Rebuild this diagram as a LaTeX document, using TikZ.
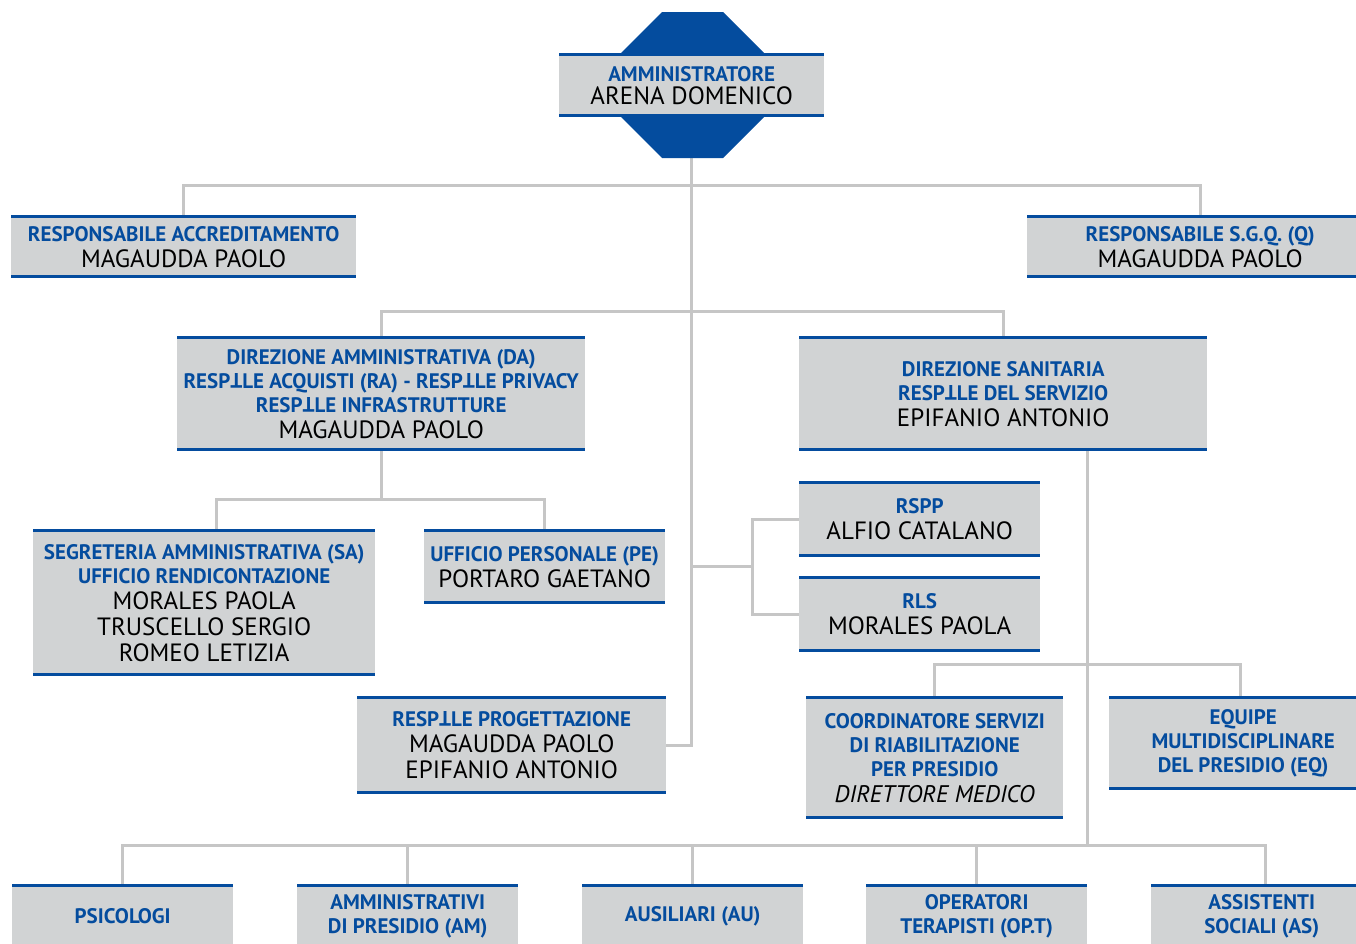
\documentclass[tikz,border=0pt]{standalone}
\usepackage{fontspec}
\setmainfont{PT Sans}
\usetikzlibrary{backgrounds}
\definecolor{orgblue}{RGB}{4,76,158}
\definecolor{boxgray}{RGB}{209,211,212}
\definecolor{linegray}{RGB}{198,198,198}
\newcommand{\bluetxt}[1]{{\color{orgblue}\bfseries\fontsize{21}{24}\selectfont #1}}
\newcommand{\blacktxt}[1]{{\fontsize{25}{24}\selectfont #1}}
\newcommand{\blackit}[1]{{\itshape\fontsize{24}{24}\selectfont #1}}
\newcommand{\tee}{\rotatebox[origin=c]{180}{T}}
\tikzset{
  orgbox/.style={fill=boxgray, anchor=north west, inner sep=0pt, align=center,
    font=\fontsize{21}{24}\selectfont,
    path picture={\draw[line width=3pt, orgblue]
      ([yshift=-1.5pt]path picture bounding box.north west) -- ([yshift=-1.5pt]path picture bounding box.north east)
      ([yshift=1.5pt]path picture bounding box.south west) -- ([yshift=1.5pt]path picture bounding box.south east);}},
  conn/.style={draw=linegray, line width=3pt},
}
\begin{document}
\begin{tikzpicture}[x=1pt, y=-1pt]
\useasboundingbox (0,0) rectangle (1356,943);
\clip (0,0) rectangle (1356,943);

% octagon
\fill[orgblue] (662,12) -- (723,12) -- (764,53) -- (764,117) -- (723,158) -- (662,158) -- (621,117) -- (621,53) -- cycle;

% boxes
\node[orgbox, minimum width=265pt, minimum height=64pt] (adm) at (559,53)
  {\bluetxt{AMMINISTRATORE}\\[-1pt] \blacktxt{ARENA DOMENICO}};
\node[orgbox, minimum width=345pt, minimum height=63pt] (racc) at (11,215)
  {\bluetxt{RESPONSABILE ACCREDITAMENTO}\\[2pt] \blacktxt{MAGAUDDA PAOLO}};
\node[orgbox, minimum width=346pt, minimum height=63pt] (sgq) at (1027,215)
  {\bluetxt{RESPONSABILE S.G.Q. (Q)}\\[2pt] \blacktxt{MAGAUDDA PAOLO}};
\node[orgbox, minimum width=408pt, minimum height=115pt] (da) at (177,336)
  {\bluetxt{DIREZIONE AMMINISTRATIVA (DA)}\\ \bluetxt{RESP\tee LE ACQUISTI (RA) - RESP\tee LE PRIVACY}\\ \bluetxt{RESP\tee LE INFRASTRUTTURE}\\[2pt] \blacktxt{MAGAUDDA PAOLO}};
\node[orgbox, minimum width=408pt, minimum height=115pt] (ds) at (799,336)
  {\bluetxt{DIREZIONE SANITARIA}\\ \bluetxt{RESP\tee LE DEL SERVIZIO}\\[2pt] \blacktxt{EPIFANIO ANTONIO}};
\node[orgbox, minimum width=342pt, minimum height=147pt] (sa) at (33,529)
  {\bluetxt{SEGRETERIA AMMINISTRATIVA (SA)}\\ \bluetxt{UFFICIO RENDICONTAZIONE}\\[2pt] \blacktxt{MORALES PAOLA}\\[2pt] \blacktxt{TRUSCELLO SERGIO}\\[2pt] \blacktxt{ROMEO LETIZIA}};
\node[orgbox, minimum width=241pt, minimum height=75pt] (pe) at (424,529)
  {\bluetxt{UFFICIO PERSONALE (PE)}\\[2pt] \blacktxt{PORTARO GAETANO}};
\node[orgbox, minimum width=241pt, minimum height=76pt] (rspp) at (799,481)
  {\bluetxt{RSPP}\\[2pt] \blacktxt{ALFIO CATALANO}};
\node[orgbox, minimum width=241pt, minimum height=76pt] (rls) at (799,576)
  {\bluetxt{RLS}\\[2pt] \blacktxt{MORALES PAOLA}};
\node[orgbox, minimum width=309pt, minimum height=98pt] (prog) at (357,696)
  {\bluetxt{RESP\tee LE PROGETTAZIONE}\\[2pt] \blacktxt{MAGAUDDA PAOLO}\\[2pt] \blacktxt{EPIFANIO ANTONIO}};
\node[orgbox, minimum width=257pt, minimum height=123pt] (coord) at (806,696)
  {\bluetxt{COORDINATORE SERVIZI}\\ \bluetxt{DI RIABILITAZIONE}\\ \bluetxt{PER PRESIDIO}\\[2pt] \blackit{DIRETTORE MEDICO}};
\node[orgbox, minimum width=268pt, minimum height=94pt] (equipe) at (1109,696)
  {\bluetxt{EQUIPE}\\ \bluetxt{MULTIDISCIPLINARE}\\ \bluetxt{DEL PRESIDIO (EQ)}};
\node[orgbox, minimum width=221pt, minimum height=64pt] (ps) at (12,884)
  {\bluetxt{PSICOLOGI}};
\node[orgbox, minimum width=221pt, minimum height=64pt] (am) at (297,884)
  {\bluetxt{AMMINISTRATIVI}\\ \bluetxt{DI PRESIDIO (AM)}};
\node[orgbox, minimum width=221pt, minimum height=64pt] (au) at (582,884)
  {\bluetxt{AUSILIARI (AU)}};
\node[orgbox, minimum width=221pt, minimum height=64pt] (op) at (866,884)
  {\bluetxt{OPERATORI}\\ \bluetxt{TERAPISTI (OP.T)}};
\node[orgbox, minimum width=221pt, minimum height=64pt] (as) at (1151,884)
  {\bluetxt{ASSISTENTI}\\ \bluetxt{SOCIALI (AS)}};

% connectors
\coordinate (tj) at (692,566);
\coordinate (sj) at (752,566);
\begin{scope}[on background layer]
\fill[white] (0,0) rectangle (1356,943);
\draw[conn] (adm.south) |- (prog.east);
\draw[conn] (racc.north) -- ++(0,-30) -| (sgq.north);
\draw[conn] (da.north) -- ++(0,-25) -| (ds.north);
\draw[conn] (da.south) -- ++(0,48);
\draw[conn] ([xshift=12pt]sa.north) -- ++(0,-30) -| (pe.north);
\draw[conn] (tj) -- (sj);
\draw[conn] (rspp.west) -| (sj) |- (rls.west);
\draw[conn] ([xshift=84pt]ds.south) -- ++(0,394);
\draw[conn] (coord.north) -- ++(0,-32) -| ([xshift=-3pt]equipe.north);
\draw[conn] (ps.north) -- ++(0,-39) -| ([xshift=4pt]as.north);
\draw[conn] (am.north) -- ++(0,-39);
\draw[conn] (au.north) -- ++(0,-39);
\draw[conn] (op.north) -- ++(0,-39);
\end{scope}
\end{tikzpicture}
\end{document}
